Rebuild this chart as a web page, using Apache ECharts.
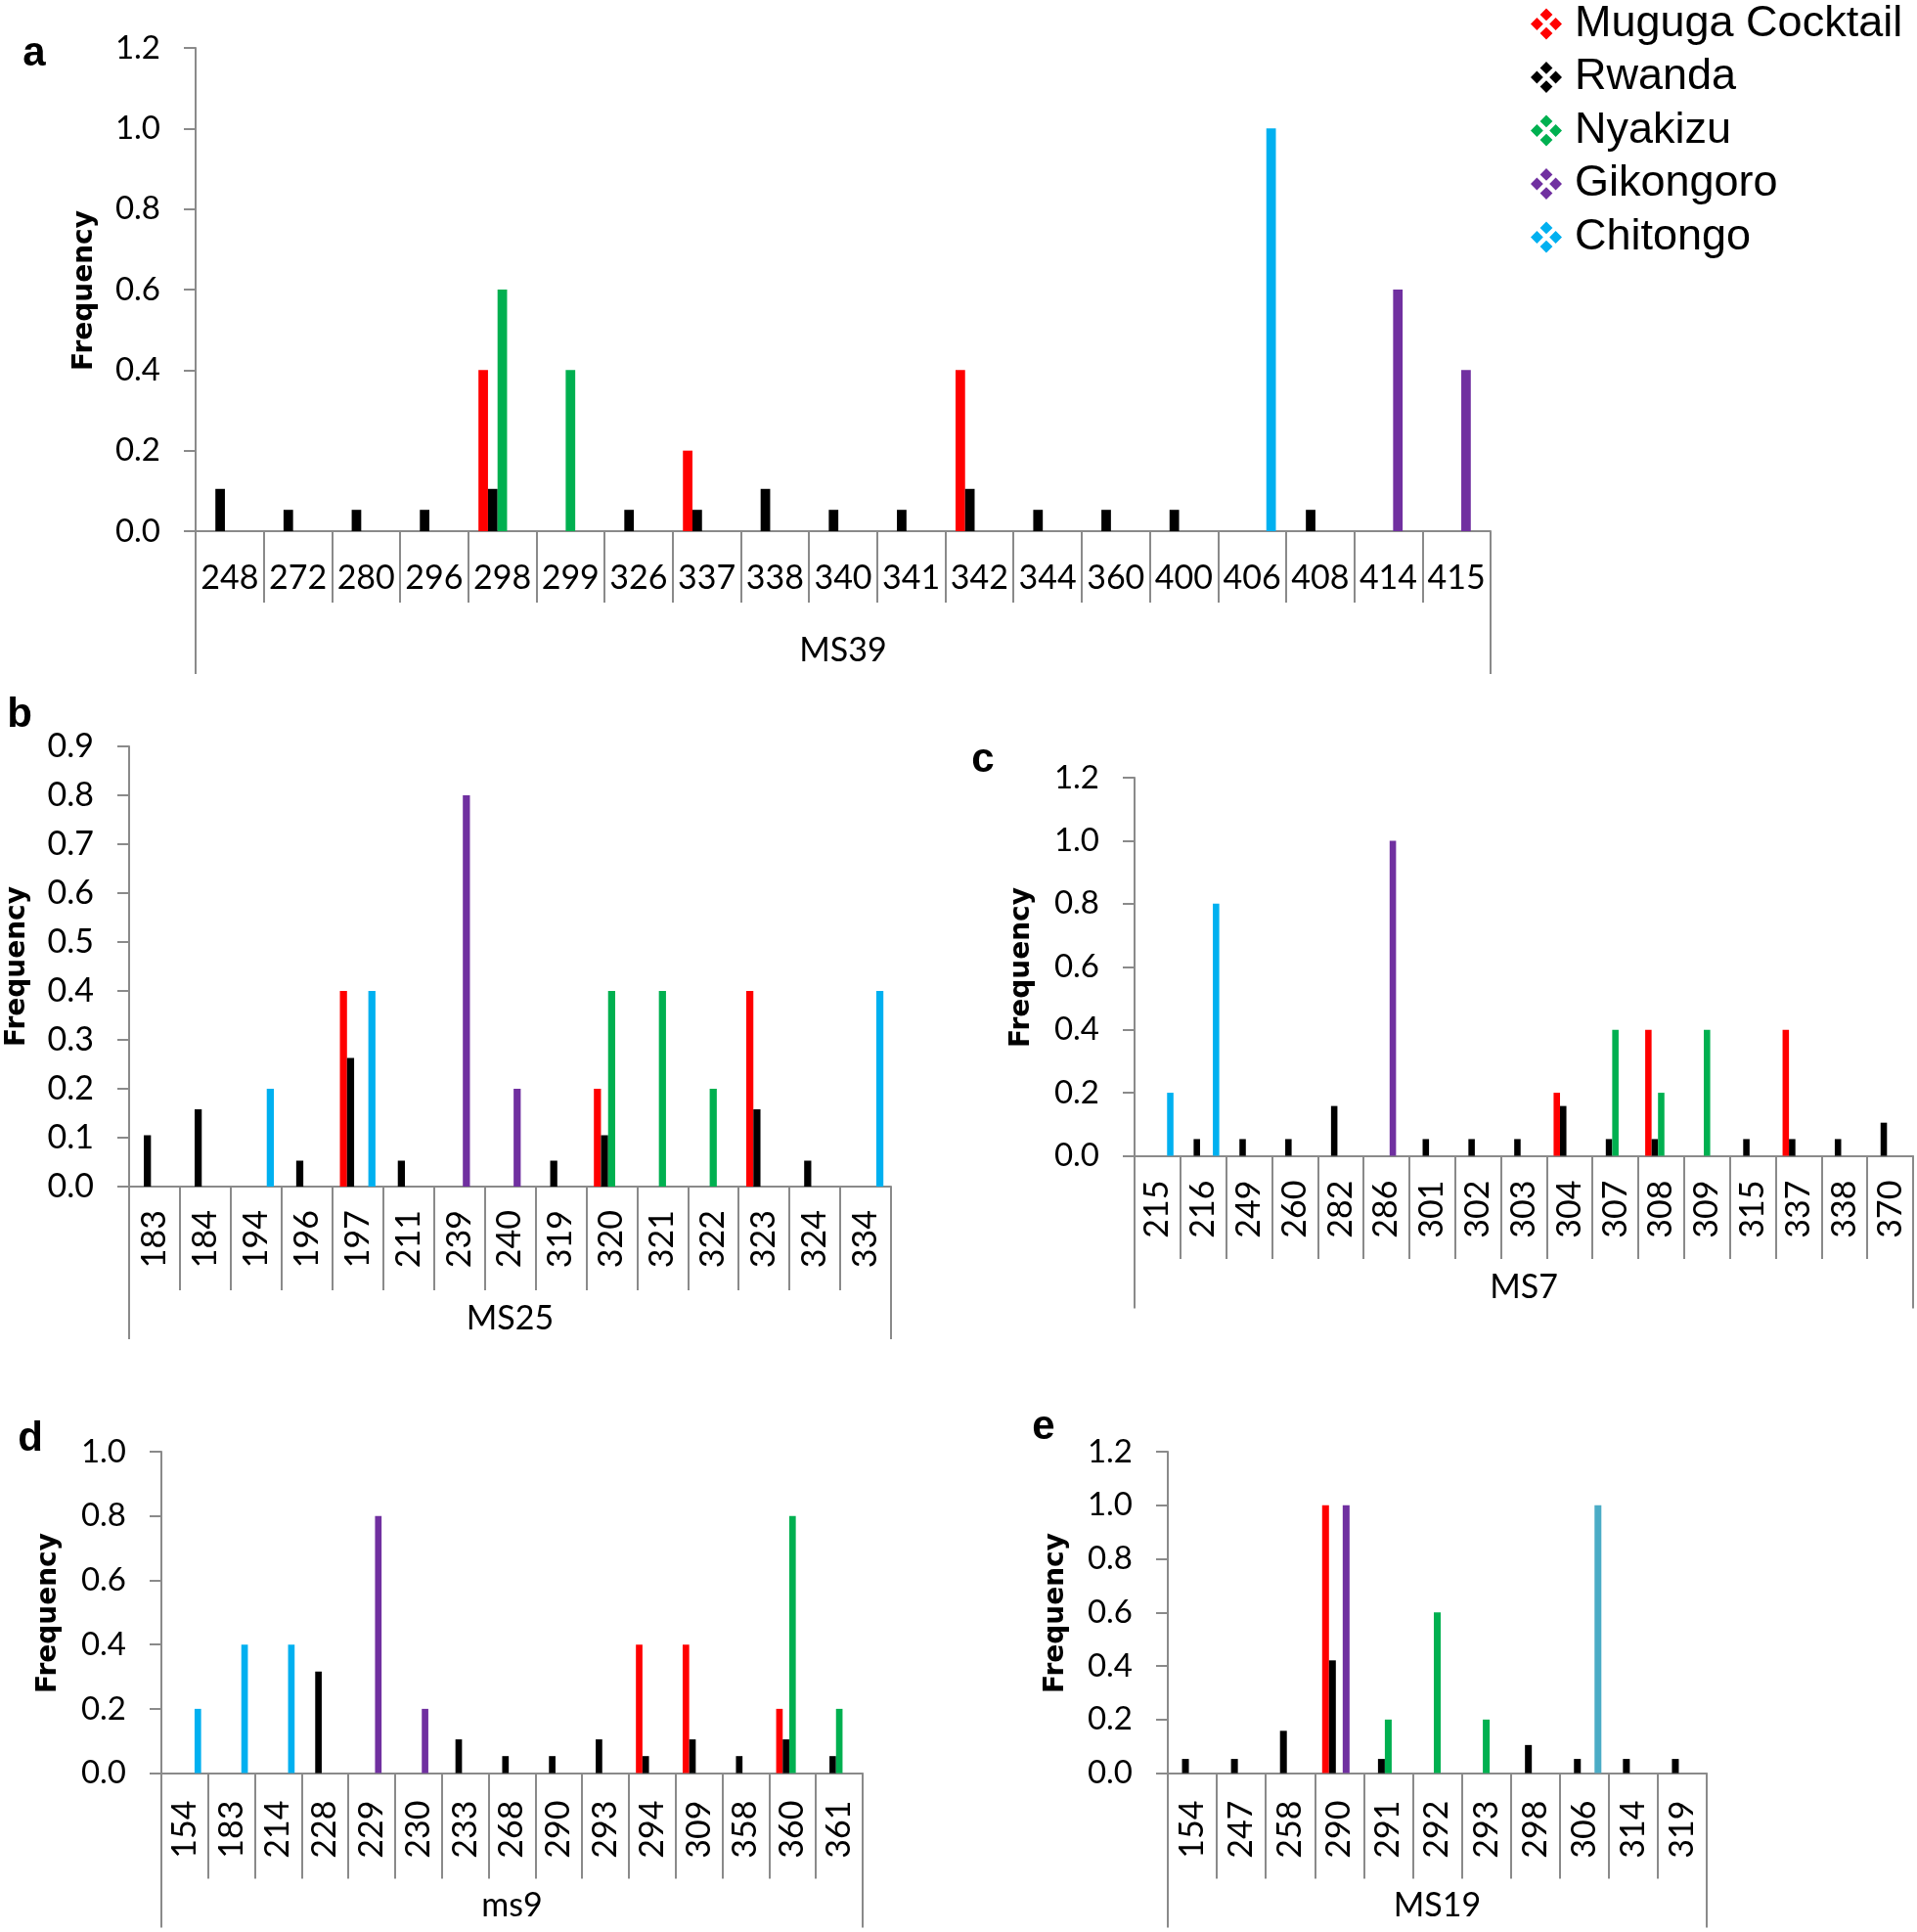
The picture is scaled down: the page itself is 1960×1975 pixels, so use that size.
<!DOCTYPE html>
<html>
<head>
<meta charset="utf-8">
<script src="https://cdn.jsdelivr.net/npm/echarts@6/dist/echarts.min.js"></script>
<style>
  html, body { margin: 0; padding: 0; background: #fff; }
  #chart { width: 1960px; height: 1975px; }
</style>
</head>
<body>
<div id="chart"></div>
<script>
// ---------------- DATA ----------------
const seriesNames = ['Muguga Cocktail', 'Rwanda', 'Nyakizu', 'Gikongoro', 'Chitongo'];

// Panel a - MS39
const catsA = ['248','272','280','296','298','299','326','337','338','340','341','342','344','360','400','406','408','414','415'];
const mugugaA    = [0,0,0,0,0.4,0,0,0.2,0,0,0,0.4,0,0,0,0,0,0,0];
const rwandaA    = [0.105,0.053,0.053,0.053,0.105,0,0.053,0.053,0.105,0.053,0.053,0.105,0.053,0.053,0.053,0,0.053,0,0];
const nyakizuA   = [0,0,0,0,0.6,0.4,0,0,0,0,0,0,0,0,0,0,0,0,0];
const gikongoroA = [0,0,0,0,0,0,0,0,0,0,0,0,0,0,0,0,0,0.6,0.4];
const chitongoA  = [0,0,0,0,0,0,0,0,0,0,0,0,0,0,0,1.0,0,0,0];

// Panel b - MS25
const catsB = ['183','184','194','196','197','211','239','240','319','320','321','322','323','324','334'];
const mugugaB    = [0,0,0,0,0.4,0,0,0,0,0.2,0,0,0.4,0,0];
const rwandaB    = [0.105,0.158,0,0.053,0.263,0.053,0,0,0.053,0.105,0,0,0.158,0.053,0];
const nyakizuB   = [0,0,0,0,0,0,0,0,0,0.4,0.4,0.2,0,0,0];
const gikongoroB = [0,0,0,0,0,0,0.8,0.2,0,0,0,0,0,0,0];
const chitongoB  = [0,0,0.2,0,0.4,0,0,0,0,0,0,0,0,0,0.4];

// Panel c - MS7
const catsC = ['215','216','249','260','282','286','301','302','303','304','307','308','309','315','337','338','370'];
const mugugaC    = [0,0,0,0,0,0,0,0,0,0.2,0,0.4,0,0,0.4,0,0];
const rwandaC    = [0,0.053,0.053,0.053,0.158,0,0.053,0.053,0.053,0.158,0.053,0.053,0,0.053,0.053,0.053,0.105];
const nyakizuC   = [0,0,0,0,0,0,0,0,0,0,0.4,0.2,0.4,0,0,0,0];
const gikongoroC = [0,0,0,0,0,1.0,0,0,0,0,0,0,0,0,0,0,0];
const chitongoC  = [0.2,0.8,0,0,0,0,0,0,0,0,0,0,0,0,0,0,0];

// Panel d - ms9
const catsD = ['154','183','214','228','229','230','233','268','290','293','294','309','358','360','361'];
const mugugaD    = [0,0,0,0,0,0,0,0,0,0,0.4,0.4,0,0.2,0];
const rwandaD    = [0,0,0,0.316,0,0,0.105,0.053,0.053,0.105,0.053,0.105,0.053,0.105,0.053];
const nyakizuD   = [0,0,0,0,0,0,0,0,0,0,0,0,0,0.8,0.2];
const gikongoroD = [0,0,0,0,0.8,0.2,0,0,0,0,0,0,0,0,0];
const chitongoD  = [0.2,0.4,0.4,0,0,0,0,0,0,0,0,0,0,0,0];

// Panel e - MS19
const catsE = ['154','247','258','290','291','292','293','298','306','314','319'];
const mugugaE    = [0,0,0,1.0,0,0,0,0,0,0,0];
const rwandaE    = [0.053,0.053,0.158,0.421,0.053,0,0,0.105,0.053,0.053,0.053];
const nyakizuE   = [0,0,0,0,0.2,0.6,0.2,0,0,0,0];
const gikongoroE = [0,0,0,1.0,0,0,0,0,0,0,0];
const chitongoE  = [0,0,0,0,0,0,0,0,1.0,0,0];

const markerNames = ['MS39', 'MS25', 'MS7', 'ms9', 'MS19'];
const yTicksMax = [1.2, 0.9, 1.2, 1.0, 1.2];
const yTicksStep = [0.2, 0.1, 0.2, 0.2, 0.2];

// ---------------- LAYOUT / STYLE ----------------
const colors = ['#FF0000', '#000000', '#00B050', '#7030A0', '#00B0F0'];
const axisGray = '#8a8a8a';
const FONT = 'Lato, "Open Sans", sans-serif';

const panels = [
  { letter: 'a', cats: catsA, vals: [mugugaA, rwandaA, nyakizuA, gikongoroA, chitongoA],
    grid: { left: 200, top: 49, width: 1324, height: 494 },
    rotate: 0, labelMargin: 31, sepLen: 73, outerLen: 146, nameMargin: 105, tickFont: 33,
    freq: [87, 297], letterPos: [35, 55] },
  { letter: 'b', cats: catsB, vals: [mugugaB, rwandaB, nyakizuB, gikongoroB, chitongoB],
    grid: { left: 132, top: 763, width: 779, height: 450 },
    rotate: 90, labelMargin: 24, sepLen: 106, outerLen: 156, nameMargin: 118, tickFont: 34,
    freq: [18, 988], letterPos: [20, 731] },
  { letter: 'c', cats: catsC, vals: [mugugaC, rwandaC, nyakizuC, gikongoroC, chitongoC],
    grid: { left: 1160, top: 795, width: 796, height: 386.5 },
    rotate: 90, labelMargin: 25, sepLen: 105.5, outerLen: 156, nameMargin: 118, tickFont: 33,
    freq: [1045, 989], letterPos: [1005, 777] },
  { letter: 'd', cats: catsD, vals: [mugugaD, rwandaD, nyakizuD, gikongoroD, chitongoD],
    grid: { left: 165, top: 1484, width: 717, height: 328.6 },
    rotate: 90, labelMargin: 28, sepLen: 108, outerLen: 158, nameMargin: 118, tickFont: 33,
    freq: [50, 1649], letterPos: [31, 1471] },
  { letter: 'e', cats: catsE, vals: [mugugaE, rwandaE, nyakizuE, gikongoroE, chitongoE],
    grid: { left: 1194, top: 1484, width: 551, height: 328.6 },
    rotate: 90, labelMargin: 28, sepLen: 108, outerLen: 158, nameMargin: 118, tickFont: 33,
    freq: [1080, 1649], letterPos: [1067, 1459], chitongoColor: '#4BACC6' }
];

const grid = [], xAxis = [], yAxis = [], series = [], graphic = [];

panels.forEach((p, i) => {
  grid.push(Object.assign({ containLabel: false }, p.grid));
  // first-level category axis
  xAxis.push({
    type: 'category', gridIndex: i, data: p.cats, position: 'bottom',
    boundaryGap: true,
    axisLine: { show: true, lineStyle: { color: axisGray, width: 2 } },
    axisTick: { show: true, interval: 0, alignWithLabel: false, length: p.sepLen,
                lineStyle: { color: axisGray, width: 2 } },
    axisLabel: { interval: 0, rotate: p.rotate, margin: p.labelMargin, color: '#000',
                 fontFamily: FONT, fontSize: 34 },
    splitLine: { show: false }
  });
  // second-level (marker name) axis
  xAxis.push({
    type: 'category', gridIndex: i, data: [markerNames[i]], position: 'bottom',
    boundaryGap: true,
    axisLine: { show: false },
    axisTick: { show: true, interval: 0, length: p.outerLen,
                lineStyle: { color: axisGray, width: 2 } },
    axisLabel: { interval: 0, margin: p.nameMargin, color: '#000',
                 fontFamily: FONT, fontSize: 34 },
    splitLine: { show: false }
  });
  yAxis.push({
    type: 'value', gridIndex: i, min: 0, max: yTicksMax[i], interval: yTicksStep[i],
    axisLine: { show: true, lineStyle: { color: axisGray, width: 2 } },
    axisTick: { show: true, length: 12, lineStyle: { color: axisGray, width: 2 } },
    axisLabel: { margin: 36, color: '#000', fontFamily: FONT, fontSize: p.tickFont,
                 formatter: v => v.toFixed(1) },
    splitLine: { show: false }
  });
  seriesNames.forEach((name, s) => {
    let c = colors[s];
    if (s === 4 && p.chitongoColor) c = p.chitongoColor;
    series.push({
      type: 'bar', name: name, xAxisIndex: i * 2, yAxisIndex: i,
      data: p.vals[s], barGap: '0%', barCategoryGap: '30%',
      itemStyle: { color: c }, emphasis: { disabled: true },
      animation: false
    });
  });
  graphic.push({
    type: 'text', x: p.freq[0], y: p.freq[1], rotation: Math.PI / 2,
    style: { text: 'Frequency', font: 'bold 28px "DejaVu Sans", sans-serif',
             fill: '#000', textAlign: 'center', textVerticalAlign: 'middle' }
  });
  graphic.push({
    type: 'text', x: p.letterPos[0], y: p.letterPos[1],
    style: { text: p.letter, font: 'bold 42px "Liberation Sans", Arial, sans-serif',
             fill: '#000', textAlign: 'center', textVerticalAlign: 'middle' }
  });
});

const legendIcon = 'path://M5,0L7,2L5,4L3,2Z M8,3L10,5L8,7L6,5Z M5,6L7,8L5,10L3,8Z M2,3L4,5L2,7L0,5Z';

const chart = echarts.init(document.getElementById('chart'), null, { renderer: 'canvas' });
chart.setOption({
  backgroundColor: '#ffffff',
  animation: false,
  color: colors,
  legend: {
    data: seriesNames, orient: 'vertical', left: 1560, top: -3,
    icon: legendIcon, itemWidth: 32, itemHeight: 32, itemGap: 9.5,
    textStyle: { fontFamily: '"Liberation Sans", Arial, sans-serif', fontSize: 45,
                 color: '#000', lineHeight: 45, padding: [0, 0, 0, 8] },
    selectedMode: false
  },
  grid: grid, xAxis: xAxis, yAxis: yAxis, series: series, graphic: graphic
});
</script>
</body>
</html>
